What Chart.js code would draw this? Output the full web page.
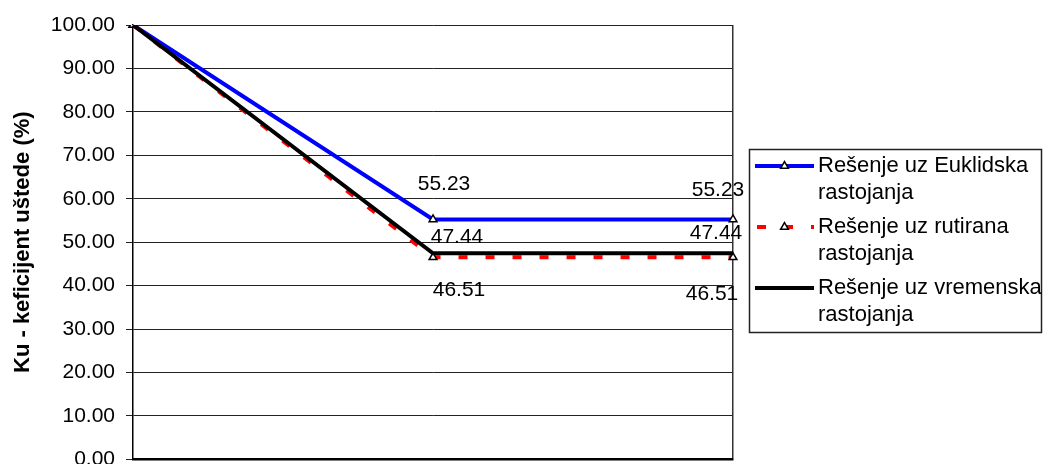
<!DOCTYPE html>
<html>
<head>
<meta charset="utf-8">
<script src="https://cdn.jsdelivr.net/npm/chart.js@4.4.1/dist/chart.umd.min.js"></script>
<style>
  html, body { margin: 0; padding: 0; background: #fff; overflow: hidden; }
  #wrap { width: 1044px; height: 464px; overflow: hidden; position: relative; }
  canvas { display: block; }
</style>
</head>
<body>
<div id="wrap"><canvas id="chart" width="1044" height="483"></canvas></div>
<script>
// Iterations along the x axis (not labelled)
const categories = ['1', '2', '3'];

// Savings coefficient Ku (%) for each distance type
const euklidska = [100.00, 55.23, 55.23];
const rutirana  = [100.00, 46.51, 46.51];
const vremenska = [100.00, 47.44, 47.44];

const seriesNames = [
  'Rešenje uz Euklidska\nrastojanja',
  'Rešenje uz rutirana\nrastojanja',
  'Rešenje uz vremenska\nrastojanja'
];

const yTitle = 'Ku - keficijent uštede (%)';
const yMin = 0, yMax = 100, yStep = 10;

const FONT = "'Liberation Sans', Arial, sans-serif";

// Value labels drawn next to the points
const valueLabels = {
  id: 'valueLabels',
  afterDatasetsDraw(chart, args, opts) {
    const ctx = chart.ctx;
    ctx.save();
    ctx.font = opts.font;
    ctx.fillStyle = '#000';
    ctx.textAlign = 'center';
    ctx.textBaseline = 'middle';
    chart.data.datasets.forEach((ds, di) => {
      const meta = chart.getDatasetMeta(di);
      const offs = opts.offsets[di] || [];
      meta.data.forEach((pt, i) => {
        const o = offs[i];
        if (!o) return;
        ctx.fillText(ds.data[i].toFixed(2), pt.x + o[0], pt.y + o[1]);
      });
    });
    ctx.restore();
  }
};

// Boxed legend with two-line entries on the right side
const boxLegend = {
  id: 'boxLegend',
  afterDraw(chart, args, opts) {
    const ctx = chart.ctx;
    ctx.save();
    ctx.strokeStyle = '#222';
    ctx.lineWidth = 1.5;
    ctx.strokeRect(opts.x, opts.y, opts.w, opts.h);
    ctx.font = opts.font;
    ctx.fillStyle = '#000';
    ctx.textAlign = 'left';
    ctx.textBaseline = 'middle';
    chart.data.datasets.forEach((ds, i) => {
      const y0 = opts.firstLine + i * opts.itemGap;
      // line sample
      ctx.save();
      ctx.strokeStyle = ds.borderColor;
      ctx.lineWidth = ds.borderWidth;
      ctx.lineCap = 'butt';
      ctx.setLineDash(ds.borderDash || []);
      ctx.lineDashOffset = ds.borderDash ? -2 : 0;
      ctx.beginPath();
      ctx.moveTo(opts.sampleX0, y0);
      ctx.lineTo(opts.sampleX1, y0);
      ctx.stroke();
      ctx.restore();
      if (ds.pointRadius > 0) {
        // hollow triangle marker in the middle of the sample
        ctx.save();
        ctx.fillStyle = ds.pointBackgroundColor;
        ctx.strokeStyle = ds.pointBorderColor;
        ctx.lineWidth = ds.pointBorderWidth;
        const r = ds.pointRadius, cx = (opts.sampleX0 + opts.sampleX1) / 2;
        const side = 3 * r / Math.sqrt(3), h = side * Math.sqrt(3) / 2;
        ctx.beginPath();
        ctx.moveTo(cx, y0 - 2 * h / 3);
        ctx.lineTo(cx + side / 2, y0 + h / 3);
        ctx.lineTo(cx - side / 2, y0 + h / 3);
        ctx.closePath();
        ctx.fill();
        ctx.stroke();
        ctx.restore();
      }
      ds.label.split('\n').forEach((line, li) => {
        ctx.fillText(line, opts.textX, y0 + li * opts.lineGap);
      });
    });
    ctx.restore();
  }
};

new Chart(document.getElementById('chart'), {
  type: 'line',
  data: {
    labels: categories,
    datasets: [
      {
        label: seriesNames[0],
        data: euklidska,
        borderColor: '#0000ff',
        borderWidth: 4,
        pointStyle: 'triangle',
        pointRadius: 4.5,
        pointBorderWidth: 1.5,
        pointBorderColor: '#000',
        pointBackgroundColor: '#fff',
        order: 3
      },
      {
        label: seriesNames[1],
        data: rutirana,
        borderColor: '#ff0000',
        borderWidth: 4,
        borderDash: [9, 18],
        borderCapStyle: 'butt',
        pointStyle: 'triangle',
        pointRadius: 4.5,
        pointBorderWidth: 1.5,
        pointBorderColor: '#000',
        pointBackgroundColor: '#fff',
        order: 2
      },
      {
        label: seriesNames[2],
        data: vremenska,
        borderColor: '#000000',
        borderWidth: 4,
        pointRadius: 0,
        order: 1
      }
    ]
  },
  options: {
    responsive: false,
    animation: false,
    devicePixelRatio: 1,
    layout: { padding: { left: 0, right: 311, top: 25, bottom: 0 } },
    elements: { line: { tension: 0 } },
    plugins: {
      legend: { display: false },
      tooltip: { enabled: false },
      valueLabels: {
        font: '21px ' + FONT,
        offsets: [
          [null, [11, -35], [-15, -29]],
          [null, [26, 33], [-21, 37]],
          [null, [24, -16], [-17, -20]]
        ]
      },
      boxLegend: {
        x: 749.5, y: 149.5, w: 292, h: 183,
        font: '22px ' + FONT,
        sampleX0: 755, sampleX1: 814, textX: 818,
        firstLine: 166, itemGap: 61, lineGap: 27
      }
    },
    scales: {
      x: {
        type: 'category',
        offset: false,
        ticks: { display: false },
        grid: {
          drawTicks: false,
          color: (c) => c.index === 2 ? '#333' : 'rgba(0,0,0,0)',
          lineWidth: 1.5
        },
        border: { display: true, color: '#000', width: 2.5 },
        afterFit: (s) => { s.height = 0; }
      },
      y: {
        min: yMin,
        max: yMax,
        ticks: {
          stepSize: yStep,
          color: '#000',
          font: { family: FONT, size: 21 },
          padding: 11,
          callback: (v) => Number(v).toFixed(2)
        },
        grid: { color: '#222', lineWidth: 1, tickLength: 7, drawTicks: true },
        border: { display: true, color: '#000', width: 1.5 },
        title: {
          display: true,
          text: yTitle,
          color: '#000',
          font: { family: FONT, size: 22, weight: 'bold' },
          padding: { top: 10, bottom: 0 }
        },
        afterFit: (s) => { s.width = 133; }
      }
    }
  },
  plugins: [valueLabels, boxLegend]
});
</script>
</body>
</html>
